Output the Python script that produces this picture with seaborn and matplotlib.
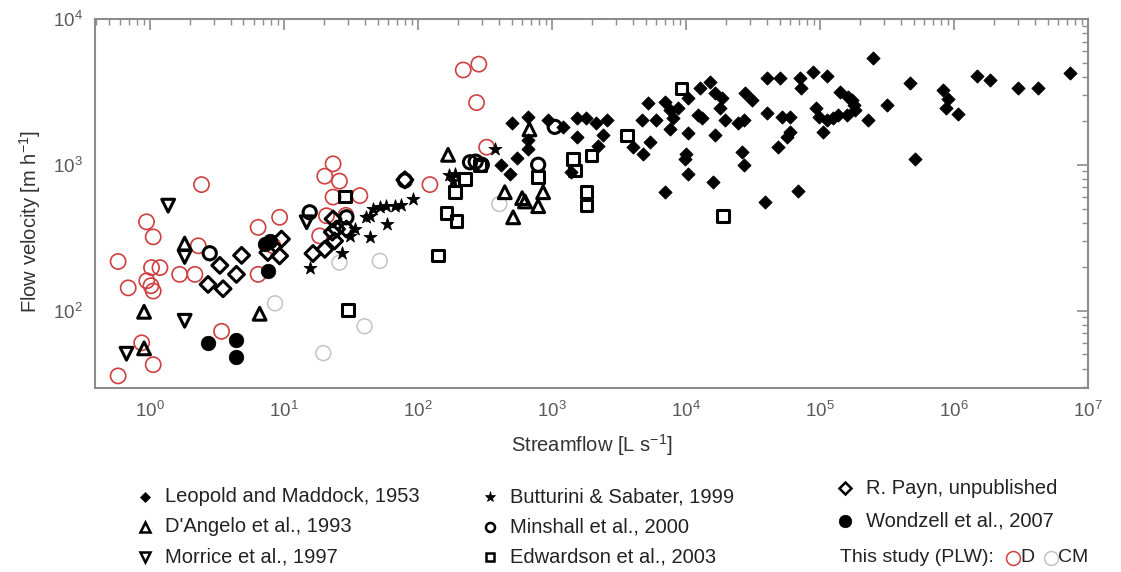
import numpy as np
import pandas as pd
import matplotlib
matplotlib.use("Agg")
import matplotlib.pyplot as plt
import seaborn as sns
from matplotlib.lines import Line2D
from matplotlib.ticker import LogLocator, NullFormatter, FixedLocator, LogFormatterSciNotation

# ---------------- data (streamflow L/s, velocity m/h) ----------------
leopold_q = [500, 665, 665, 665, 545, 490, 420, 940, 1530, 1810, 2150, 2560, 2420, 1530, 1400, 2220, 1220,
             5240, 4670, 4040, 4800, 5400, 6000, 6950, 7580, 8040, 7580, 8700, 10400, 10400, 10100, 9860,
             10400, 6950, 12700, 15100, 16500, 18500, 18000, 12400, 13100, 16500, 19500, 16000, 27500,
             30900, 40000, 24600, 27200, 26000, 27200, 39000, 48800, 56400, 60000, 68900, 40000, 50300,
             71000, 72000, 89000, 112000, 94000, 99000, 112000, 126000, 106000, 52000, 60000,
             250000, 141000, 163000, 172000, 178000, 183000, 158000, 137000, 229000, 315000, 470000,
             512000, 832000, 908000, 871000, 1080000, 1480000, 1860000, 3020000, 4210000, 7340000]
leopold_v = [1920, 2130, 1470, 1290, 1120, 867, 990, 2020, 2100, 2080, 1920, 2020, 1590, 1550, 890, 1350, 1820,
             2640, 2020, 1320, 1190, 1430, 2020, 2700, 2370, 2080, 1770, 2440, 2850, 1640, 1190, 1100,
             867, 648, 3380, 3720, 3090, 2850, 2440, 2190, 2080, 1590, 2020, 760, 3090,
             2770, 2250, 1920, 2020, 1220, 990, 553, 1320, 1550, 1680, 665, 3960, 3960,
             3920, 3340, 4360, 4090, 2440, 2130, 2020, 2080, 1680, 2130, 2130,
             5430, 3170, 2930, 2770, 2560, 2370, 2190, 2190, 2020, 2560, 3620,
             1100, 3250, 2820, 2460, 2220, 4060, 3810, 3340, 3340, 4290]

dangelo_q = [1.82, 0.906, 0.906, 6.6, 168, 680, 445, 514, 630, 600, 790, 860]
dangelo_v = [288, 98, 55, 95, 1170, 1750, 648, 436, 560, 590, 520, 648]

morrice_q = [1.37, 1.82, 0.67, 1.82, 14.8]
morrice_v = [524, 85, 50.5, 233, 403]

butturini_q = [15.8, 27, 43.9, 58.4, 46.4, 52, 58, 67.5, 75, 92, 43.9, 34, 31, 41, 172, 182, 375, 189]
butturini_v = [195, 250, 317, 392, 497, 511, 524, 524, 530, 583, 447, 362, 325, 436, 844, 779, 1290, 867]

minshall_q = [2.8, 15.6, 29.3, 80, 245, 270, 300, 790, 1050]
minshall_v = [247, 472, 436, 780, 1040, 1050, 1000, 1000, 1820]

edwardson_q = [28.6, 30, 142, 164, 194, 189, 225, 290, 790, 1440, 1480, 1980, 1810, 1810, 9290, 3650, 19000]
edwardson_v = [604, 100.5, 239, 467, 413, 648, 800, 990, 822, 1100, 914, 1160, 648, 524, 3340, 1590, 447]

payn_q = [3.33, 4.84, 4.43, 2.72, 3.52, 9.6, 9.3, 7.6, 16.5, 20.2, 23.9, 24.7, 29.3, 23.3, 80, 23]
payn_v = [204, 239, 177, 151, 141, 309, 237, 250, 246, 263, 300, 362, 362, 425, 788, 345]

wondzell_q = [2.72, 4.43, 4.36, 7.64, 7.2, 7.9]
wondzell_v = [60, 62.4, 48, 187, 285, 300]

plw_d_q = [2.43, 0.945, 1.06, 0.58, 1.03, 1.19, 0.69, 0.95, 1.02, 1.06, 1.67, 2.17, 2.3, 6.43, 9.3, 6.43,
           8.3, 3.43, 0.87, 1.06, 0.58, 23.3, 20.2, 26, 23.3, 36.9, 123, 18.5, 20.8, 218, 285, 274, 326, 29]
plw_d_v = [731, 406, 320, 217, 197, 197, 143, 160, 148, 136, 177, 177, 278, 372, 436, 177,
           278, 72, 60, 42.5, 35.6, 1015, 835, 772, 600, 614, 731, 325, 447, 4470, 4900, 2670, 1320, 450]

plw_cm_q = [8.6, 26, 52, 40, 19.7, 405]
plw_cm_v = [112, 213, 219, 78, 51, 538]

x_ticks = [1e0, 1e1, 1e2, 1e3, 1e4, 1e5, 1e6, 1e7]
y_ticks = [1e2, 1e3, 1e4]

legend_col1 = ["Leopold and Maddock, 1953", "D'Angelo et al., 1993", "Morrice et al., 1997"]
legend_col2 = ["Butturini & Sabater, 1999", "Minshall et al., 2000", "Edwardson et al., 2003"]
legend_col3 = ["R. Payn, unpublished", "Wondzell et al., 2007"]

xlabel = "Streamflow [L s$^{-1}$]"
ylabel = "Flow velocity [m h$^{-1}$]"

# ---------------- style ----------------
sns.set_theme(style="white")
plt.rcParams["font.family"] = ["Liberation Sans", "DejaVu Sans"]
plt.rcParams["mathtext.fontset"] = "custom"
plt.rcParams["mathtext.rm"] = "Liberation Sans"
plt.rcParams["mathtext.it"] = "Liberation Sans:italic"
plt.rcParams["mathtext.bf"] = "Liberation Sans:bold"

RED = "#cf3f3f"
GRAY = "#c4c4c4"

W, H = 1121, 572
fig = plt.figure(figsize=(W / 100, H / 100), dpi=100)
ax = fig.add_axes([95 / W, 1 - 388 / H, 993 / W, 369 / H])

open_kw = dict(facecolor="none", edgecolor="black", linewidth=2.2)
series = [
    (plw_cm_q, plw_cm_v, dict(marker="o", s=115, facecolor="none", edgecolor=GRAY, linewidth=1.1)),
    (plw_d_q, plw_d_v, dict(marker="o", s=120, facecolor="none", edgecolor=RED, linewidth=1.2)),
    (dangelo_q, dangelo_v, dict(marker="^", s=85, **open_kw)),
    (morrice_q, morrice_v, dict(marker="v", s=85, **open_kw)),
    (minshall_q, minshall_v, dict(marker="o", s=90, **open_kw)),
    (edwardson_q, edwardson_v, dict(marker="s", s=70, **open_kw)),
    (payn_q, payn_v, dict(marker="D", s=65, **open_kw)),
    (butturini_q, butturini_v, dict(marker="*", s=95, facecolor="black", edgecolor="black", linewidth=0.6)),
    (wondzell_q, wondzell_v, dict(marker="o", s=110, facecolor="black", edgecolor="black", linewidth=0.5)),
    (leopold_q, leopold_v, dict(marker="D", s=45, facecolor="black", edgecolor="black", linewidth=0.6)),
]
for q, v, kw in series:
    df = pd.DataFrame({"Q": q, "V": v})
    sns.scatterplot(data=df, x="Q", y="V", ax=ax, legend=False, zorder=3, **kw)

ax.set_xscale("log")
ax.set_yscale("log")
ax.set_xlim(0.39, 1e7)
ax.set_ylim(29.4, 1e4)

ax.xaxis.set_major_locator(FixedLocator(x_ticks))
ax.xaxis.set_major_formatter(LogFormatterSciNotation())
ax.xaxis.set_minor_locator(LogLocator(base=10, subs=np.arange(2, 10), numticks=200))
ax.xaxis.set_minor_formatter(NullFormatter())
ax.yaxis.set_major_locator(FixedLocator(y_ticks))
ax.yaxis.set_major_formatter(LogFormatterSciNotation())
ax.yaxis.set_minor_locator(LogLocator(base=10, subs=np.arange(2, 10), numticks=200))
ax.yaxis.set_minor_formatter(NullFormatter())

ax.tick_params(which="both", direction="in", top=True, right=True, color="#8c8c8c")
ax.tick_params(which="major", length=8, width=1.2, labelsize=13.5, labelcolor="#5a5a5a", pad=9)
ax.tick_params(which="minor", length=4, width=1.0)
for sp in ax.spines.values():
    sp.set_color("#8c8c8c")
    sp.set_linewidth(1.5)

ax.set_xlabel(xlabel, fontsize=14.5, color="#333333", labelpad=8)
ax.set_ylabel(ylabel, fontsize=14.5, color="#333333")
ax.yaxis.set_label_coords(-0.052, 0.45)

# ---------------- legend below the plot ----------------
def fx(px):
    return px / W

def fy(py):
    return 1 - py / H

def legend_entry(px_marker, px_text, py, label, marker, ms, fc, ec, mew, fs=14.5):
    fig.add_artist(Line2D([fx(px_marker)], [fy(py)], transform=fig.transFigure, marker=marker,
                          markersize=ms, markerfacecolor=fc, markeredgecolor=ec,
                          markeredgewidth=mew, linestyle="none"))
    fig.text(fx(px_text), fy(py), label, ha="left", va="center", fontsize=fs, color="#222222")

rows = [497, 527, 557]
col1_markers = [("D", 5.5, "black", "black", 0.5), ("^", 7, "none", "black", 1.8), ("v", 7, "none", "black", 1.8)]
col2_markers = [("*", 8, "black", "black", 0.5), ("o", 6.5, "none", "black", 1.8), ("s", 6, "none", "black", 1.8)]
for (lab, m), py in zip(zip(legend_col1, col1_markers), rows):
    legend_entry(145, 165, py, lab, *m)
for (lab, m), py in zip(zip(legend_col2, col2_markers), rows):
    legend_entry(490, 510, py, lab, *m)
col3_markers = [("D", 6.5, "none", "black", 1.8), ("o", 9, "black", "black", 0.5)]
for (lab, m), py in zip(zip(legend_col3, col3_markers), [488, 521]):
    legend_entry(845, 866, py, lab, *m)

fig.text(fx(840), fy(557), "This study (PLW):", ha="left", va="center", fontsize=14, color="#222222")
fig.add_artist(Line2D([fx(1013)], [fy(558)], transform=fig.transFigure, marker="o", markersize=10,
                      markerfacecolor="none", markeredgecolor=RED, markeredgewidth=1.1, linestyle="none"))
fig.text(fx(1020), fy(557), "D", ha="left", va="center", fontsize=14, color="#222222")
fig.add_artist(Line2D([fx(1051)], [fy(558)], transform=fig.transFigure, marker="o", markersize=10,
                      markerfacecolor="none", markeredgecolor=GRAY, markeredgewidth=1.1, linestyle="none"))
fig.text(fx(1058), fy(557), "CM", ha="left", va="center", fontsize=14, color="#222222")

fig.savefig("out.png", dpi=100)
